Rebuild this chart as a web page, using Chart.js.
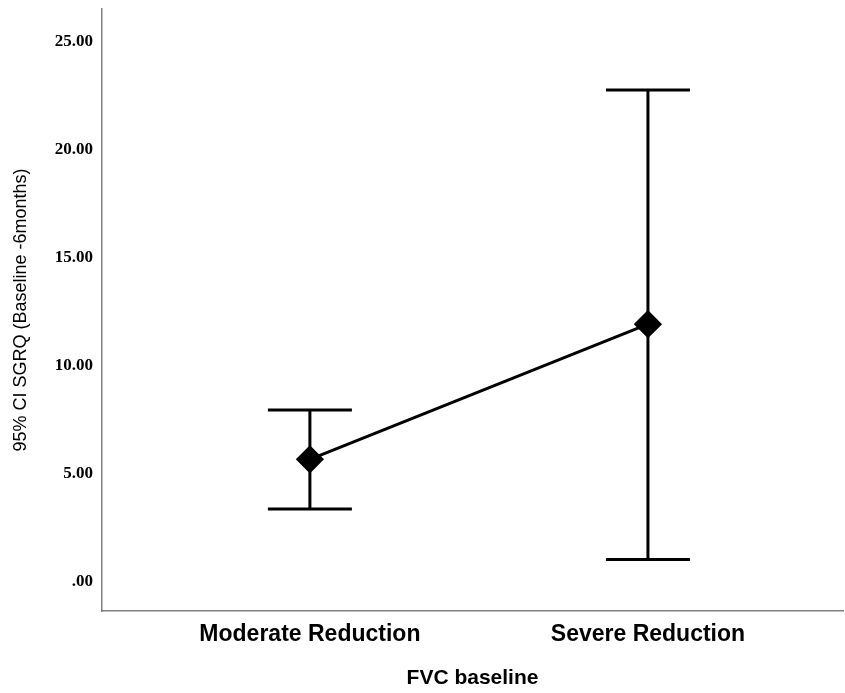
<!DOCTYPE html>
<html>
<head>
<meta charset="utf-8">
<script src="https://cdn.jsdelivr.net/npm/chart.js@4.4.0/dist/chart.umd.min.js"></script>
<style>
  html, body { margin: 0; padding: 0; background: #fff; }
  #wrap { width: 845px; height: 693px; }
</style>
</head>
<body>
<div id="wrap"><canvas id="myChart"></canvas></div>
<script>
// Données
const groups = ['Moderate Reduction', 'Severe Reduction'];
const means = [5.68, 11.94];
const ciLow = [3.38, 1.05];
const ciHigh = [7.96, 22.78];
const yTicks = [0, 5, 10, 15, 20, 25];

// Barres d'erreur (IC 95%)
const errorBars = {
    id: 'errorBars',
    afterDatasetsDraw(chart) {
        const ctx = chart.ctx;
        const xs = chart.scales.x;
        const ys = chart.scales.y;
        ctx.save();
        ctx.strokeStyle = '#000';
        ctx.lineWidth = 3;
        groups.forEach((g, i) => {
            const x = xs.getPixelForValue(i);
            const yLo = ys.getPixelForValue(ciLow[i]);
            const yHi = ys.getPixelForValue(ciHigh[i]);
            ctx.beginPath();
            ctx.moveTo(x, yLo);
            ctx.lineTo(x, yHi);
            ctx.moveTo(x - 42, yLo);
            ctx.lineTo(x + 42, yLo);
            ctx.moveTo(x - 42, yHi);
            ctx.lineTo(x + 42, yHi);
            ctx.stroke();
        });
        ctx.restore();
    }
};

const ctx = document.getElementById('myChart').getContext('2d');
const myChart = new Chart(ctx, {
    type: 'line',
    data: {
        datasets: [{
            data: means.map((m, i) => ({ x: i, y: m })),
            borderColor: '#000',
            backgroundColor: '#000',
            borderWidth: 3,
            pointStyle: 'rectRot',
            pointRadius: 12,
            pointHoverRadius: 12,
            tension: 0
        }]
    },
    options: {
        responsive: true,
        maintainAspectRatio: false,
        animation: false,
        events: [],
        layout: { autoPadding: false, padding: { top: 9, right: 2, left: 0, bottom: 0 } },
        plugins: { legend: { display: false }, tooltip: { enabled: false } },
        scales: {
            x: {
                type: 'linear',
                min: -0.615,
                max: 1.577,
                afterBuildTicks: s => { s.ticks = [{ value: 0 }, { value: 1 }]; },
                afterFit: s => { s.height = 82; s.paddingLeft = 0; s.paddingRight = 0; },
                grid: { display: false, drawTicks: false },
                border: { display: true, color: '#808080', width: 1.5 },
                ticks: {
                    padding: 10,
                    maxRotation: 0,
                    color: '#000',
                    font: { family: 'Liberation Sans', size: 23, weight: 'bold' },
                    callback: v => groups[v]
                },
                title: {
                    display: true,
                    text: 'FVC baseline',
                    color: '#000',
                    font: { family: 'Liberation Sans', size: 21, weight: 'bold' },
                    padding: { top: 0, bottom: 2 }
                }
            },
            y: {
                min: -1.34,
                max: 26.53,
                afterBuildTicks: s => { s.ticks = yTicks.map(v => ({ value: v })); },
                afterFit: s => { s.width = 102; s.paddingTop = 0; s.paddingBottom = 0; },
                grid: { display: false, drawTicks: false },
                border: { display: true, color: '#808080', width: 1.5 },
                ticks: {
                    padding: 9,
                    color: '#000',
                    font: { family: 'Liberation Serif', size: 17, weight: 'bold' },
                    callback: v => v === 0 ? '.00' : v.toFixed(2)
                },
                title: {
                    display: true,
                    text: '95% CI SGRQ (Baseline -6months)',
                    color: '#000',
                    font: { family: 'Liberation Sans', size: 18 },
                    padding: { top: 10, bottom: 0 }
                }
            }
        }
    },
    plugins: [errorBars]
});
</script>
</body>
</html>
